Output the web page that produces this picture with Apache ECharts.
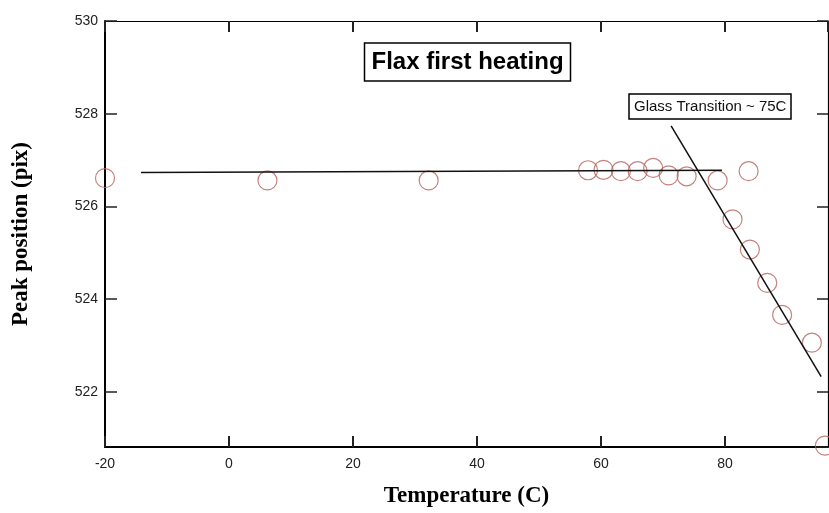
<!DOCTYPE html>
<html>
<head>
<meta charset="utf-8">
<script src="https://cdn.jsdelivr.net/npm/echarts@6/dist/echarts.min.js"></script>
<style>
  html, body { margin: 0; padding: 0; background: #fff; }
  #chart { width: 829px; height: 513px; }
</style>
</head>
<body>
<div id="chart"></div>
<script>
// Data
const tempC   = [-20, 6.2, 32.2, 57.9, 60.4, 63.2, 65.9, 68.4, 70.9, 73.8, 78.8, 83.8, 81.2, 84.0, 86.8, 89.2, 94.0, 96.1];
const peakPix = [526.61, 526.56, 526.56, 526.78, 526.79, 526.76, 526.76, 526.83, 526.67, 526.65, 526.56, 526.76, 525.72, 525.07, 524.35, 523.66, 523.06, 520.84];

const flatFitX  = [-14.2, 79.5];
const flatFitY  = [526.73, 526.78];
const slopeFitX = [71.3, 95.5];
const slopeFitY = [527.74, 522.33];

const chartTitle = 'Flax first heating';
const noteText = 'Glass Transition ~ 75C';
const xName = 'Temperature (C)';
const yName = 'Peak position (pix)';

const xMin = -20, xMax = 96.6, yMin = 520.81, yMax = 530;

const pairs = (xs, ys) => xs.map((x, i) => [x, ys[i]]);

const sans = 'Liberation Sans, Arial, sans-serif';
const serif = 'Liberation Serif, Times New Roman, serif';

const chart = echarts.init(document.getElementById('chart'), null, { renderer: 'canvas' });
chart.setOption({
  animation: false,
  backgroundColor: '#fff',
  title: [
    {
      text: chartTitle, left: 364, top: 43, padding: [7, 7.5],
      borderColor: '#000', borderWidth: 1.5,
      textStyle: { fontFamily: sans, fontSize: 24, fontWeight: 'bold', color: '#000' }
    },
    {
      text: noteText, left: 629, top: 94, padding: [5, 5],
      borderColor: '#000', borderWidth: 1.5,
      textStyle: { fontFamily: sans, fontSize: 15, fontWeight: 'normal', color: '#111' }
    }
  ],
  grid: { left: 105, right: 1, top: 21, bottom: 65, containLabel: false },
  xAxis: [
    {
      type: 'value', position: 'bottom', min: xMin, max: xMax, interval: 20,
      name: xName, nameLocation: 'middle', nameGap: 38,
      nameTextStyle: { fontFamily: serif, fontSize: 23, fontWeight: 'bold', color: '#000' },
      axisLine: { show: true, onZero: false, lineStyle: { color: '#000', width: 2 } },
      axisTick: { show: true, inside: true, length: 11, lineStyle: { color: '#222', width: 2 } },
      axisLabel: { margin: 10, fontFamily: sans, fontSize: 14, color: '#222', showMaxLabel: false },
      splitLine: { show: false }
    },
    {
      type: 'value', position: 'top', min: xMin, max: xMax, interval: 20,
      axisLine: { show: true, onZero: false, lineStyle: { color: '#000', width: 1.2 } },
      axisTick: { show: true, inside: true, length: 11, lineStyle: { color: '#222', width: 2 } },
      axisLabel: { show: false },
      splitLine: { show: false }
    }
  ],
  yAxis: [
    {
      type: 'value', position: 'left', min: yMin, max: yMax, minInterval: 2, maxInterval: 2,
      name: yName, nameLocation: 'middle', nameGap: 72,
      nameTextStyle: { fontFamily: serif, fontSize: 23, fontWeight: 'bold', color: '#000' },
      axisLine: { show: true, onZero: false, lineStyle: { color: '#000', width: 2 } },
      axisTick: { show: true, inside: true, length: 12, lineStyle: { color: '#222', width: 1.5 } },
      axisLabel: { margin: 7, fontFamily: sans, fontSize: 14, color: '#222', showMinLabel: false },
      splitLine: { show: false }
    },
    {
      type: 'value', position: 'right', min: yMin, max: yMax, minInterval: 2, maxInterval: 2,
      axisLine: { show: true, onZero: false, lineStyle: { color: '#000', width: 1.2 } },
      axisTick: { show: true, inside: true, length: 11, lineStyle: { color: '#222', width: 1.5 } },
      axisLabel: { show: false },
      splitLine: { show: false }
    }
  ],
  series: [
    {
      type: 'line', data: pairs(flatFitX, flatFitY), xAxisIndex: 0, yAxisIndex: 0,
      showSymbol: false, symbol: 'none', lineStyle: { color: '#111', width: 1.5 }, z: 3
    },
    {
      type: 'line', data: pairs(slopeFitX, slopeFitY), xAxisIndex: 0, yAxisIndex: 0,
      showSymbol: false, symbol: 'none', lineStyle: { color: '#111', width: 1.5 }, z: 3
    },
    {
      type: 'scatter', data: pairs(tempC, peakPix), xAxisIndex: 0, yAxisIndex: 0,
      symbol: 'circle', symbolSize: 19, clip: false,
      itemStyle: { color: 'rgba(0,0,0,0)', borderColor: '#b5645f', borderWidth: 1.2 }, z: 2
    }
  ]
});
</script>
</body>
</html>
